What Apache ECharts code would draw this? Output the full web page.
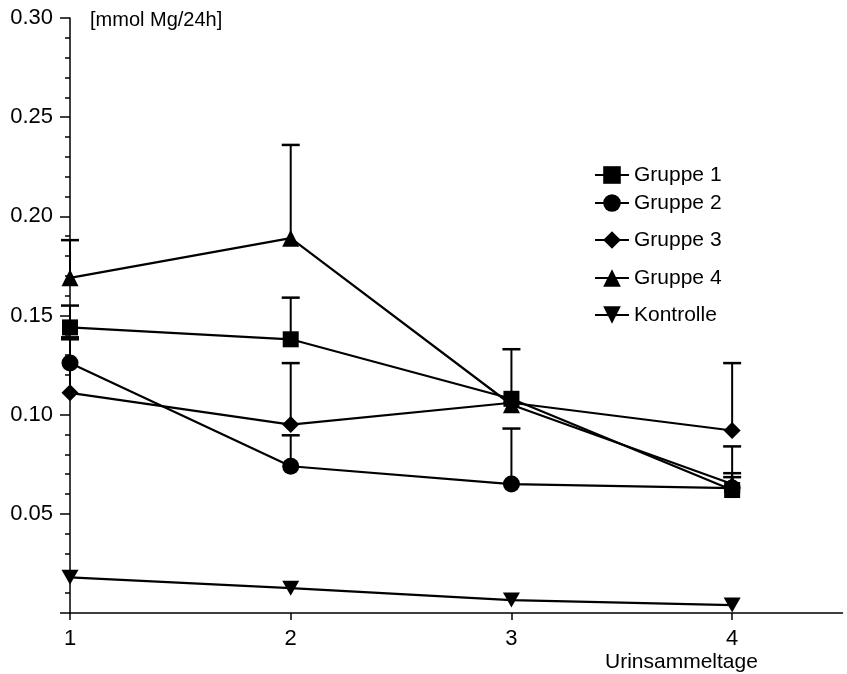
<!DOCTYPE html>
<html>
<head>
<meta charset="utf-8">
<script src="https://cdn.jsdelivr.net/npm/echarts@6/dist/echarts.min.js"></script>
<style>html,body{margin:0;padding:0;background:#fff}#c{width:847px;height:674px}</style>
</head>
<body>
<div id="c"></div>
<script>
const days = [1, 2, 3, 4];
const seriesNames = ['Gruppe 1', 'Gruppe 2', 'Gruppe 3', 'Gruppe 4', 'Kontrolle'];
const gruppe1 = [0.144, 0.138, 0.108, 0.062];
const gruppe2 = [0.126, 0.074, 0.065, 0.063];
const gruppe3 = [0.111, 0.095, 0.106, 0.092];
const gruppe4 = [0.169, 0.189, 0.105, 0.065];
const kontrolle = [0.018, 0.0125, 0.0065, 0.004];
// upper ends of error bars (null = not visible)
const gruppe1Err = [0.155, 0.159, 0.133, 0.084];
const gruppe2Err = [0.139, 0.0896, 0.093, 0.0705];
const gruppe3Err = [0.138, 0.126, null, 0.126];
const gruppe4Err = [0.188, 0.236, null, 0.0685];
const yTickLabels = ['0.05', '0.10', '0.15', '0.20', '0.25', '0.30'];
const xTickLabels = ['1', '2', '3', '4'];

const values = [gruppe1, gruppe2, gruppe3, gruppe4, kontrolle];
const errs = [gruppe1Err, gruppe2Err, gruppe3Err, gruppe4Err, null];
const symbols = ['rect', 'circle', 'diamond', 'triangle', 'path://M0,0 L10,0 L5,9 Z'];
const symSizes = [16, 17, 17, 17, [17, 15]];
const legendCenters = [175, 203, 240, 278, 315];

const chart = echarts.init(document.getElementById('c'), null, {renderer: 'canvas'});
const font = 'Liberation Sans, Arial, sans-serif';

const series = [];
values.forEach((vals, i) => {
  if (errs[i]) {
    const d = [];
    days.forEach((x, j) => { if (errs[i][j] != null) d.push([x, vals[j], errs[i][j]]); });
    series.push({
      type: 'custom',
      name: seriesNames[i] + ' err',
      data: d,
      z: 1,
      silent: true,
      renderItem: (params, api) => {
        const x = api.value(0), y = api.value(1), hi = api.value(2);
        const p0 = api.coord([x, y]);
        const p1 = api.coord([x, hi]);
        const w = 9;
        return {
          type: 'group',
          children: [
            {type: 'line', shape: {x1: p0[0], y1: p0[1], x2: p1[0], y2: p1[1]}, style: {stroke: '#000', lineWidth: 2}},
            {type: 'line', shape: {x1: p1[0] - w, y1: p1[1], x2: p1[0] + w, y2: p1[1]}, style: {stroke: '#000', lineWidth: 2.5}}
          ]
        };
      }
    });
  }
});
values.forEach((vals, i) => {
  series.push({
    type: 'line',
    name: seriesNames[i],
    data: days.map((x, j) => [x, vals[j]]),
    symbol: symbols[i],
    symbolSize: symSizes[i],
    showAllSymbol: true,
    z: 3,
    lineStyle: {color: '#000', width: 2.2},
    itemStyle: {color: '#000', borderColor: '#000', borderWidth: 0},
    emphasis: {disabled: true},
    animation: false
  });
});

const legends = seriesNames.map((n, i) => ({
  data: [n],
  left: 594,
  top: legendCenters[i] - 11,
  padding: 0,
  orient: 'vertical',
  itemWidth: 34,
  itemHeight: 22,
  itemGap: 4,
  textStyle: {fontFamily: font, fontSize: 21, color: '#000', lineHeight: 22},
  selectedMode: false
}));

chart.setOption({
  animation: false,
  backgroundColor: '#fff',
  grid: {left: 70, right: 4.5, top: 18, bottom: 61, containLabel: false},
  legend: legends,
  xAxis: {
    type: 'value',
    min: 1,
    max: 4.5,
    interval: 1,
    splitLine: {show: false},
    axisLine: {lineStyle: {color: '#000', width: 1.5}},
    axisTick: {show: true, length: 7, lineStyle: {color: '#000', width: 1.5}, customValues: days},
    axisLabel: {
      customValues: days,
      color: '#000', fontFamily: font, fontSize: 22, margin: 15,
      formatter: v => { const k = days.indexOf(v); return k >= 0 ? xTickLabels[k] : ''; }
    }
  },
  yAxis: {
    type: 'value',
    min: 0,
    max: 0.3,
    interval: 0.05,
    splitLine: {show: false},
    axisLine: {show: true, lineStyle: {color: '#000', width: 1.5}},
    axisTick: {show: true, length: 10, lineStyle: {color: '#000', width: 1.5}},
    minorTick: {show: true, splitNumber: 5, length: 5, lineStyle: {color: '#000', width: 1.5}},
    axisLabel: {
      color: '#000', fontFamily: font, fontSize: 22, margin: 17,
      formatter: v => { const k = Math.round(v / 0.05) - 1; return (k >= 0 && k < yTickLabels.length) ? yTickLabels[k] : ''; }
    }
  },
  graphic: [
    {type: 'text', left: 90, top: 10, style: {text: '[mmol Mg/24h]', font: '20px ' + font, fill: '#000'}},
    {type: 'text', left: 605, top: 652, style: {text: 'Urinsammeltage', font: '21px ' + font, fill: '#000'}}
  ],
  series: series
});
</script>
</body>
</html>
